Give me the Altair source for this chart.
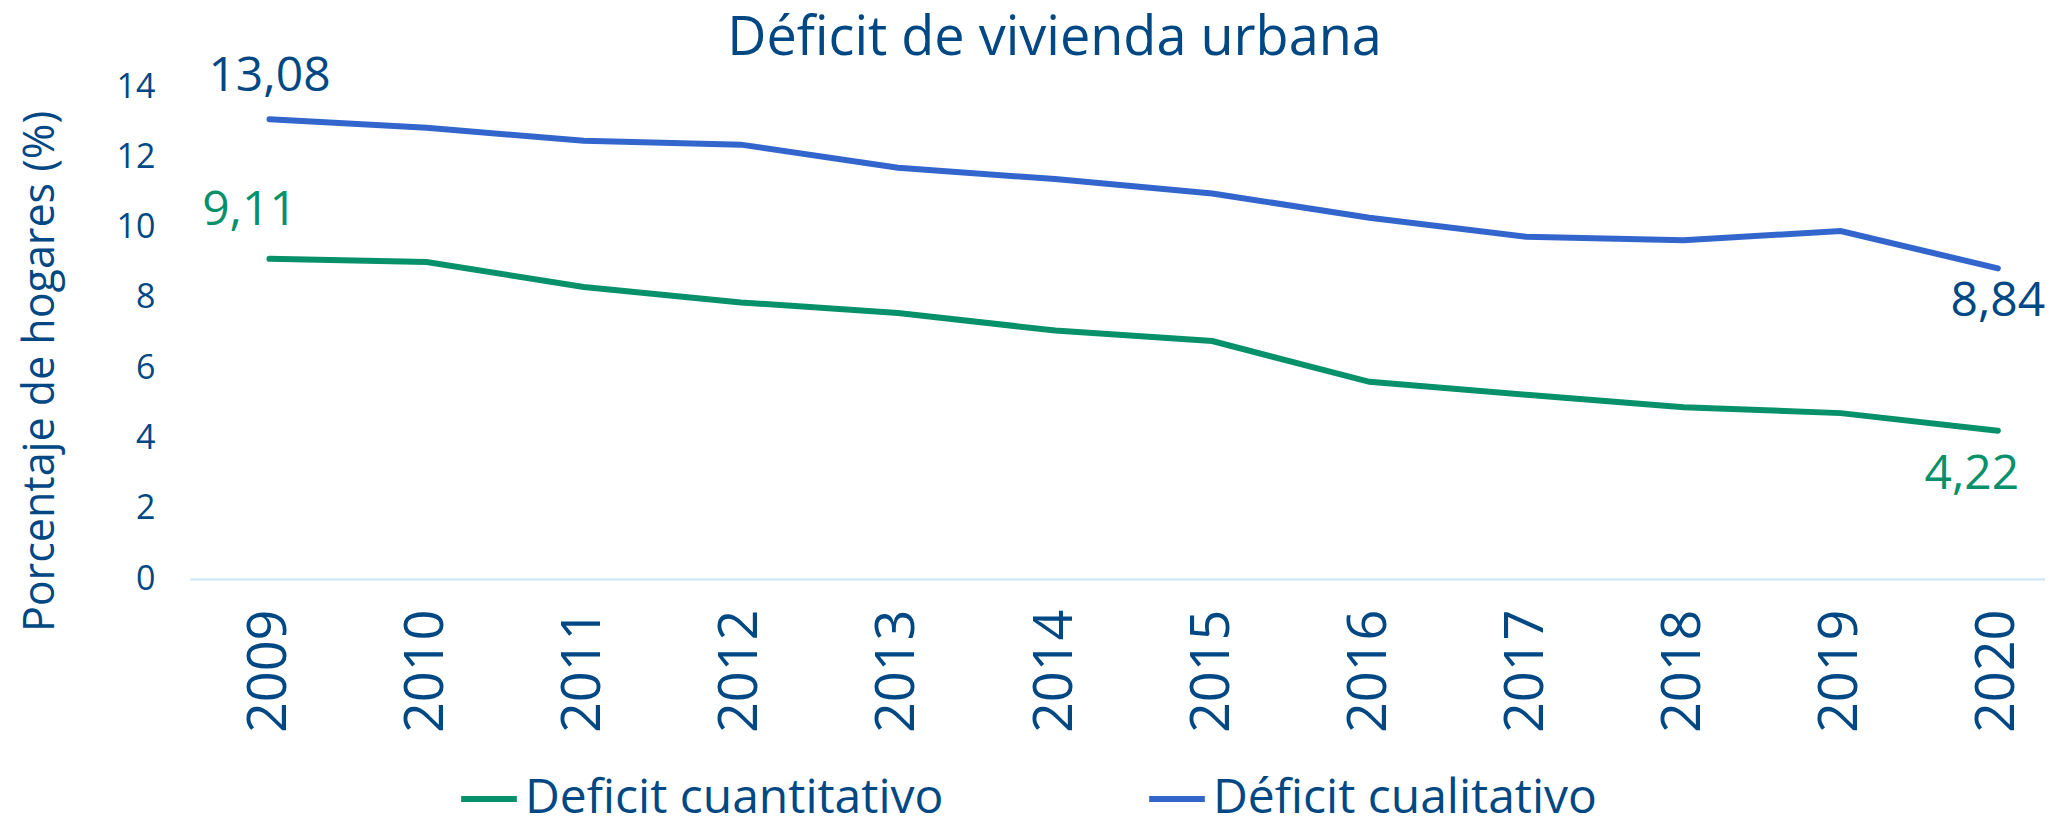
import altair as alt
import pandas as pd

years = list(range(2009, 2021))
series_names = ["Deficit cuantitativo", "Déficit cualitativo"]
cuantitativo = [9.11, 9.02, 8.31, 7.87, 7.57, 7.07, 6.77, 5.61, 5.24, 4.89, 4.72, 4.22]
cualitativo = [13.08, 12.84, 12.47, 12.36, 11.70, 11.38, 10.97, 10.28, 9.74, 9.64, 9.90, 8.84]
y_ticks = [0, 2, 4, 6, 8, 10, 12, 14]

GREEN = "#07916A"
BLUE = "#3366CC"
TEXT = "#004884"
FONT = "Open Sans"

rows = []
for name, vals in zip(series_names, [cuantitativo, cualitativo]):
    for y, v in zip(years, vals):
        rows.append({"year": y, "serie": name, "value": v})
df = pd.DataFrame(rows)

def fmt(v):
    return f"{v:.2f}".replace(".", ",")

W, H = 1855, 492

x_enc = alt.X("year:Q",
              scale=alt.Scale(domain=[2008.494, 2020.30], nice=False, zero=False),
              axis=alt.Axis(values=years, format="d", labelAngle=-90, labelFontSize=54,
                            labelColor=TEXT, labelFont=FONT, labelPadding=30,
                            ticks=False, grid=False, domainColor="#CCE3FA",
                            domainWidth=2, title=None, labelFlush=False))
y_enc = alt.Y("value:Q",
              scale=alt.Scale(domain=[0, 14], nice=False),
              axis=alt.Axis(values=y_ticks, labelFontSize=34, labelColor=TEXT,
                            labelFont=FONT, labelPadding=35, ticks=False,
                            grid=False, domain=False,
                            title="Porcentaje de hogares (%)", titleFontSize=43,
                            titleFont=FONT, titleColor=TEXT, titleFontWeight="normal",
                            titleAngle=-90, titleX=-150, titleY=H / 2 + 38,
                            titleAlign="center", titleBaseline="middle"))

lines = alt.Chart(df).mark_line(strokeWidth=6, strokeCap="round").encode(
    x=x_enc,
    y=y_enc,
    color=alt.Color("serie:N",
                    scale=alt.Scale(domain=series_names, range=[GREEN, BLUE]),
                    legend=alt.Legend(title=None, orient="none", direction="horizontal",
                                      legendX=268, legendY=681,
                                      symbolType="stroke", symbolSize=3100,
                                      symbolStrokeWidth=6, labelFontSize=48,
                                      labelColor=TEXT, labelFont=FONT,
                                      labelOffset=5, columnPadding=193,
                                      labelLimit=1000)),
)

def label_layer(year, value, color, dx, dy, baseline):
    d = pd.DataFrame({"year": [year], "value": [value], "txt": [fmt(value)]})
    return alt.Chart(d).mark_text(fontSize=48, font=FONT, color=color, dx=dx, dy=dy,
                                  baseline=baseline, align="center").encode(
        x="year:Q", y="value:Q", text="txt:N")

labels = [
    label_layer(years[0], cualitativo[0], TEXT, 0, -18, "bottom"),
    label_layer(years[0], cuantitativo[0], GREEN, -20, -24, "bottom"),
    label_layer(years[-1], cualitativo[-1], TEXT, 0, 10, "top"),
    label_layer(years[-1], cuantitativo[-1], GREEN, -26, 20, "top"),
]

chart = alt.layer(lines, *labels).properties(
    width=W, height=H,
    title=alt.TitleParams("Déficit de vivienda urbana", fontSize=54, font=FONT,
                          color=TEXT, fontWeight=500, anchor="middle",
                          offset=10, dx=-63, dy=23),
    autosize=alt.AutoSizeParams(type="none"),
    padding={"left": 182, "top": 79, "right": 0, "bottom": 235},
).configure_view(stroke=None)

chart.save("out.html", embed_options={"renderer": "svg", "actions": False})
